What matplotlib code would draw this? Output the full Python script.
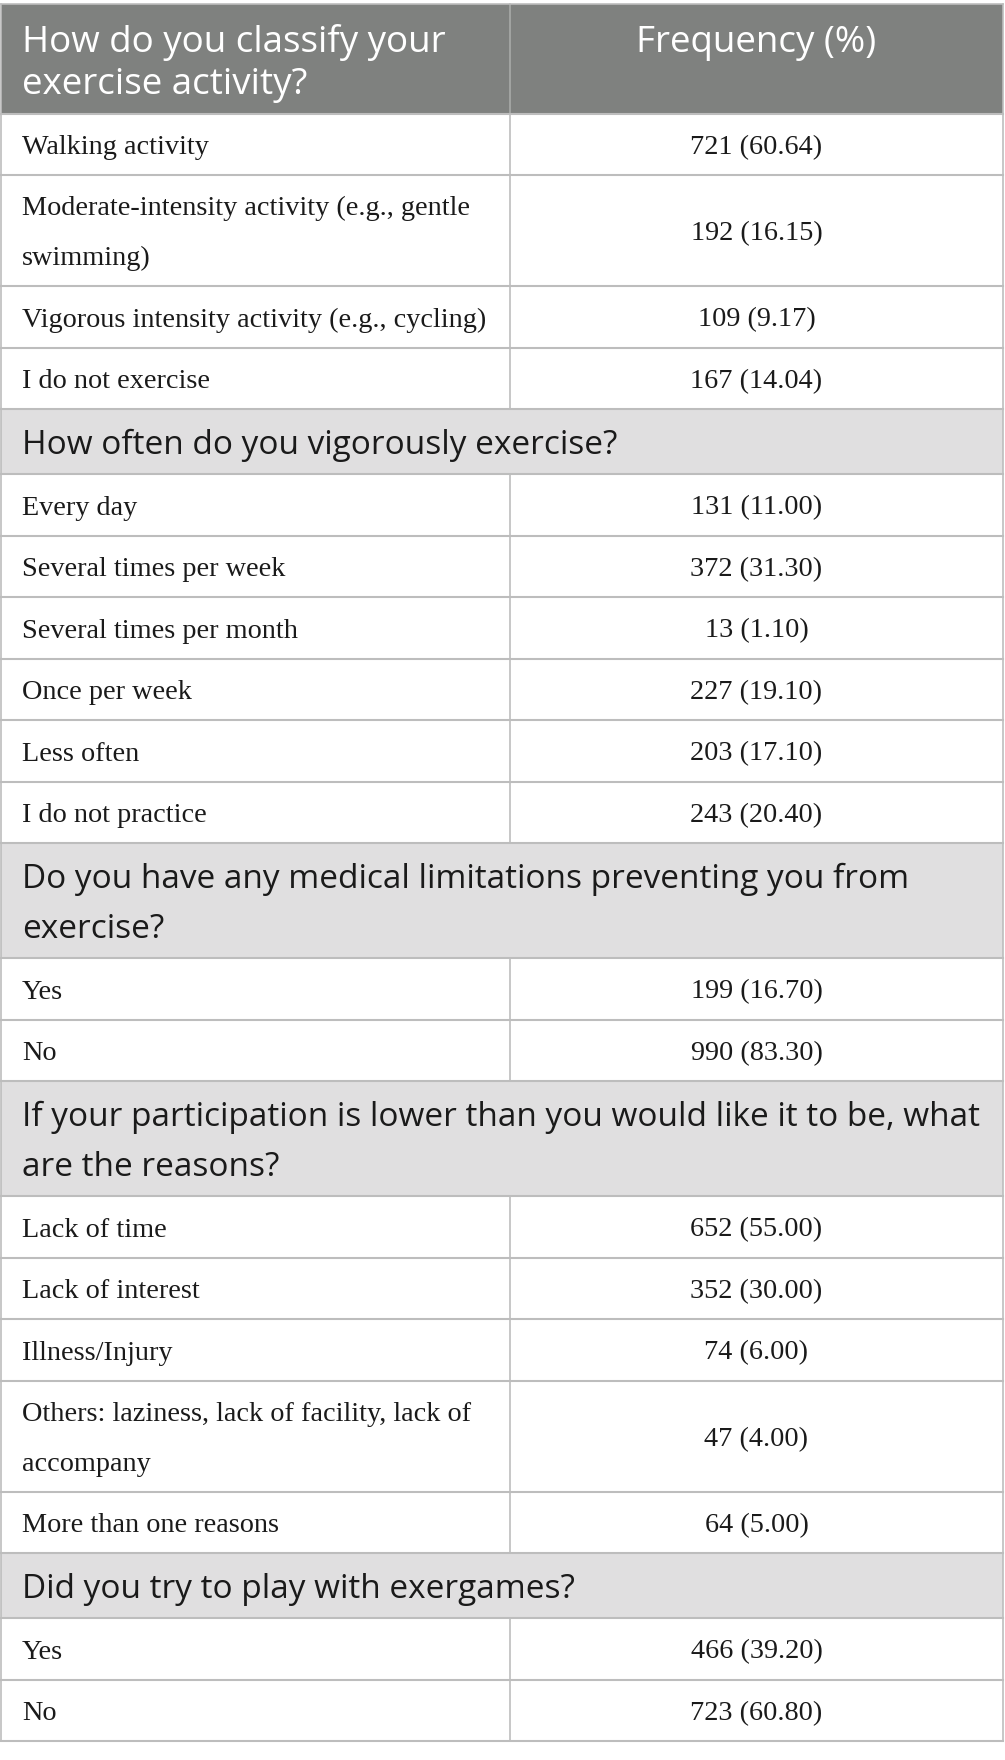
import matplotlib.pyplot as plt
from matplotlib.patches import Rectangle

# table content
header_left = "How do you classify your\nexercise activity?"
header_right = "Frequency (%)"

section_titles = [
    None,
    "How often do you vigorously exercise?",
    "Do you have any medical limitations preventing you from\nexercise?",
    "If your participation is lower than you would like it to be, what\nare the reasons?",
    "Did you try to play with exergames?",
]

activity_labels = ["Walking activity",
                   "Moderate-intensity activity (e.g., gentle\nswimming)",
                   "Vigorous intensity activity (e.g., cycling)",
                   "I do not exercise"]
activity_counts = [721, 192, 109, 167]
activity_pct = [60.64, 16.15, 9.17, 14.04]

vigorous_labels = ["Every day", "Several times per week", "Several times per month",
                   "Once per week", "Less often", "I do not practice"]
vigorous_counts = [131, 372, 13, 227, 203, 243]
vigorous_pct = [11.00, 31.30, 1.10, 19.10, 17.10, 20.40]

medical_labels = ["Yes", "No"]
medical_counts = [199, 990]
medical_pct = [16.70, 83.30]

reason_labels = ["Lack of time", "Lack of interest", "Illness/Injury",
                 "Others: laziness, lack of facility, lack of\naccompany",
                 "More than one reasons"]
reason_counts = [652, 352, 74, 47, 64]
reason_pct = [55.00, 30.00, 6.00, 4.00, 5.00]

exergame_labels = ["Yes", "No"]
exergame_counts = [466, 723]
exergame_pct = [39.20, 60.80]

groups = [
    (activity_labels, activity_counts, activity_pct),
    (vigorous_labels, vigorous_counts, vigorous_pct),
    (medical_labels, medical_counts, medical_pct),
    (reason_labels, reason_counts, reason_pct),
    (exergame_labels, exergame_counts, exergame_pct),
]

# layout (pixels)
W, H = 1005, 1760
x0, xmid, x1 = 1, 510, 1003
top = 4
header_h = 110
row1, row2 = 61.5, 111
sec1, sec2 = 65, 115
pad = 21

head_col = "#7f817f"
sec_col = "#e0dfe0"
line_col = "#bdbdbd"
txt_col = "#1a1a1a"
sans = ["Open Sans", "DejaVu Sans"]
serif = ["Liberation Serif", "DejaVu Serif"]
fs_head = 26.5
fs_sec = 24
fs_serif = 20.3

fig = plt.figure(figsize=(W / 100, H / 100), dpi=100)
ax = fig.add_axes([0, 0, 1, 1])
ax.set_xlim(0, W)
ax.set_ylim(H, 0)
ax.axis("off")


def put_lines(x, yc, text, gap, cap, **kw):
    lines = text.split("\n")
    n = len(lines)
    for i, ln in enumerate(lines):
        y = yc + (i - (n - 1) / 2) * gap + cap
        ax.text(x, y, ln, va="baseline", **kw)


# header
ax.add_patch(Rectangle((x0, top), x1 - x0, header_h, color=head_col, lw=0))
put_lines(x0 + pad, top + header_h / 2, header_left, 42, 14,
          ha="left", color="white", family=sans, fontsize=fs_head)
ax.text((xmid + x1) / 2, top + header_h / 2 - 21 + 14, header_right,
        ha="center", va="baseline", color="white", family=sans, fontsize=fs_head)
ax.plot([xmid, xmid], [top, top + header_h], color="#a9aba9", lw=1.2)
ax.plot([x0, x1], [top, top], color=line_col, lw=1.2)

y = top + header_h
hlines = [y]
for title, (labels, counts, pct) in zip(section_titles, groups):
    if title is not None:
        h = sec2 if "\n" in title else sec1
        ax.add_patch(Rectangle((x0, y), x1 - x0, h, color=sec_col, lw=0))
        put_lines(x0 + pad, y + h / 2, title, 49, 12,
                  ha="left", color=txt_col, family=sans, fontsize=fs_sec)
        y += h
        hlines.append(y)
    for lab, c, p in zip(labels, counts, pct):
        h = row2 if "\n" in lab else row1
        put_lines(x0 + pad, y + h / 2, lab, 50, 9.3,
                  ha="left", color=txt_col, family=serif, fontsize=fs_serif)
        ax.text((xmid + x1) / 2, y + h / 2 + 9.3, "{} ({:.2f})".format(c, p),
                ha="center", va="baseline", color=txt_col, family=serif,
                fontsize=fs_serif)
        ax.plot([xmid, xmid], [y, y + h], color=line_col, lw=1.2)
        y += h
        hlines.append(y)

for yy in hlines:
    ax.plot([x0, x1], [yy, yy], color=line_col, lw=1.5)
ax.plot([x0, x0], [top, y], color=line_col, lw=1.2)
ax.plot([x1, x1], [top, y], color=line_col, lw=1.2)

fig.savefig("out.png", dpi=100)
